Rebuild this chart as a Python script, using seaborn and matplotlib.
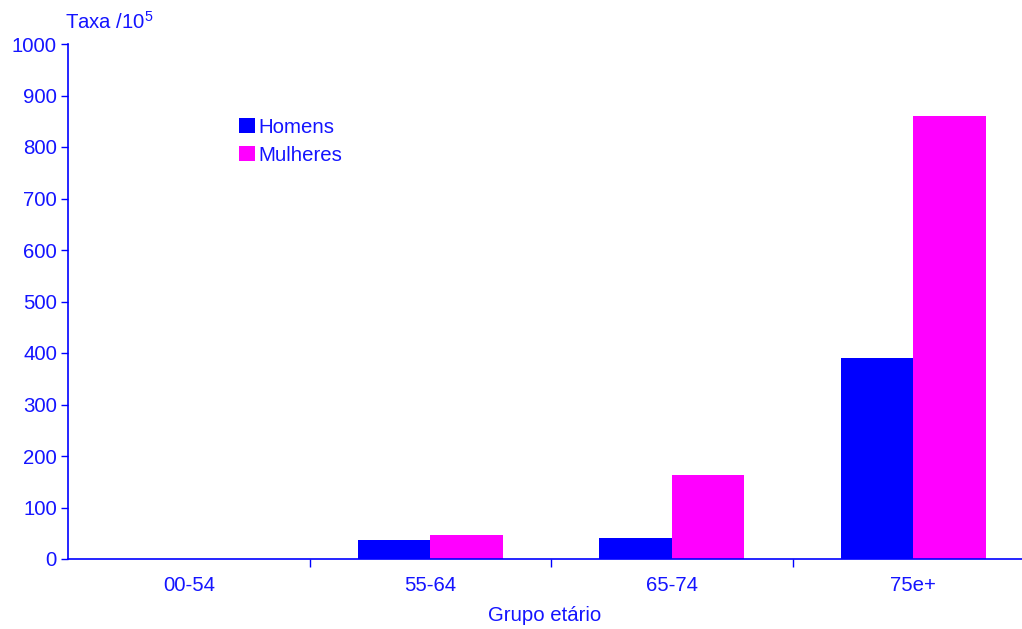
import pandas as pd
import numpy as np
import matplotlib
matplotlib.use("Agg")
import matplotlib.pyplot as plt
import seaborn as sns

# data
grupos = ["00-54", "55-64", "65-74", "75e+"]
homens = [0, 37, 40, 390]
mulheres = [0, 46, 163, 860]
series_names = ["Homens", "Mulheres"]
colors = ["#0000FF", "#FF00FF"]
y_ticks = [0, 100, 200, 300, 400, 500, 600, 700, 800, 900, 1000]

df = pd.DataFrame({
    "grupo": grupos * 2,
    "taxa": homens + mulheres,
    "sexo": [series_names[0]] * len(grupos) + [series_names[1]] * len(grupos),
})

sns.set_theme(style="white")
plt.rcParams["font.family"] = ["Liberation Sans", "DejaVu Sans"]
plt.rcParams["mathtext.fontset"] = "custom"
plt.rcParams["mathtext.rm"] = "Liberation Sans"
plt.rcParams["mathtext.it"] = "Liberation Sans"

text_col = "#1414FF"
fs = 14.7

fig = plt.figure(figsize=(10.22, 6.29), dpi=100)
ax = fig.add_axes([68 / 1022, 70 / 629, 1 - 68 / 1022, 515 / 629])

sns.barplot(data=df, x="grupo", y="taxa", hue="sexo", order=grupos,
            palette=colors, width=0.6, saturation=1, ax=ax, linewidth=0)

ax.set_xlim(-0.5, 3.45)
ax.set_ylim(0, 1000)
ax.set_yticks(y_ticks)
ax.tick_params(axis="y", direction="out", length=5, width=1, color="#0000FF",
               labelcolor=text_col, labelsize=fs, left=True, pad=3)
ax.tick_params(axis="x", which="major", length=0, labelcolor=text_col,
               labelsize=fs, pad=12)
ax.set_xticks(np.arange(0.5, len(grupos) - 0.5), minor=True)
ax.tick_params(axis="x", which="minor", direction="out", length=6, width=1,
               color="#0000FF", bottom=True)

for side in ["top", "right"]:
    ax.spines[side].set_visible(False)
for side in ["left", "bottom"]:
    ax.spines[side].set_color("#0000FF")
    ax.spines[side].set_linewidth(1.2)

ax.set_xlabel("Grupo etário", color=text_col, fontsize=fs, labelpad=8)
ax.set_ylabel("")
fig.text(65 / 1022, 1 - 22 / 629, "Taxa /10$^5$", color=text_col, fontsize=fs,
         ha="left", va="center")

leg = ax.legend(loc="upper left", bbox_to_anchor=(0.1686, 0.877), frameon=False,
                fontsize=fs, handlelength=0.8, handleheight=0.8,
                handletextpad=0.15, labelspacing=0.45, borderpad=0)
for t in leg.get_texts():
    t.set_color(text_col)

fig.savefig("out.png", dpi=100)
